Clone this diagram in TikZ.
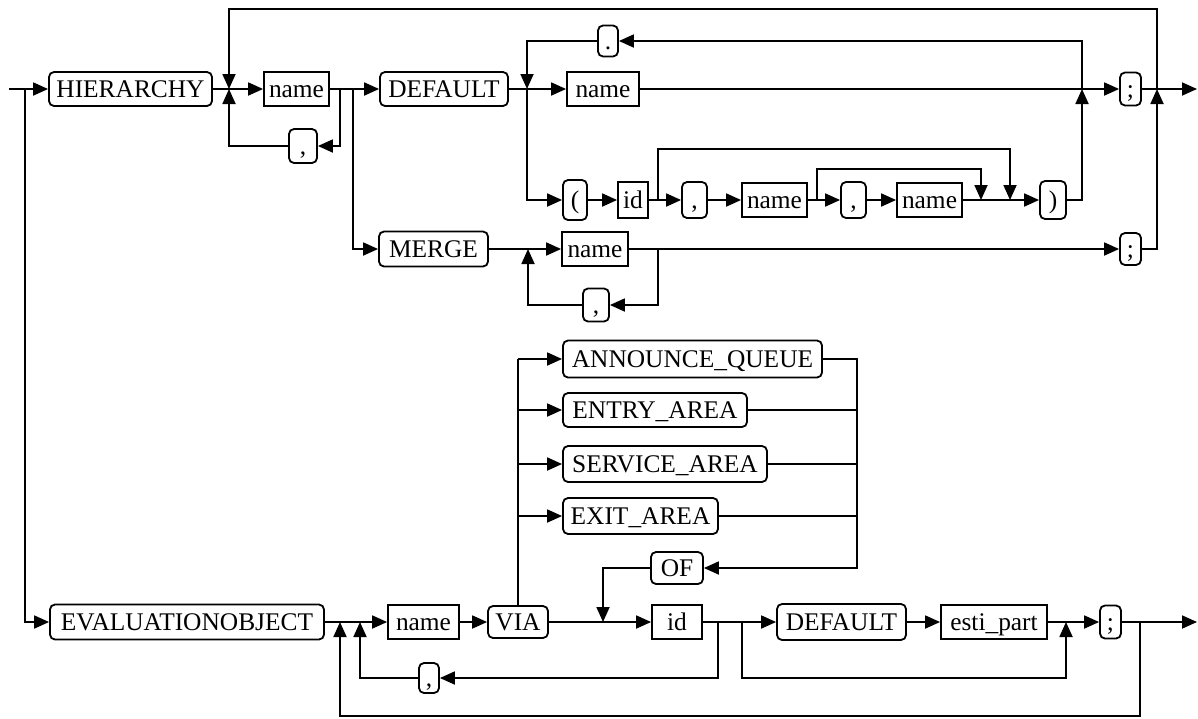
\documentclass[tikz,border=0pt]{standalone}
\usepackage{fontspec}
\setmainfont{Liberation Serif}
\usetikzlibrary{arrows.meta}

\begin{document}
\begin{tikzpicture}[x=0.5pt, y=-0.5pt, line width=0.9pt,
    >={Triangle[length=7.5pt,width=6.5pt]},
    every node/.style={font=\fontsize{12.7}{15}\selectfont, inner sep=0pt, text height=9pt, text depth=1pt},
    kw/.style={draw, rounded corners=2.5pt, minimum height=17pt},
    nt/.style={draw, minimum height=17pt}]
    \useasboundingbox (0,0) rectangle (1198,718);

    % HIERARCHY row
    \coordinate (start) at (9,89);
    \coordinate (jl) at (25,89);
    \node[kw, minimum width=81.5pt] (hier) at (130.5,89) {HIERARCHY};
    \coordinate (j1) at (229,89);
    \coordinate (tl) at (229,9);
    \node[nt, minimum width=32.5pt] (hname) at (296.5,89) {name};
    \coordinate (j2) at (340,89);
    \coordinate (j3) at (353,89);
    \node[kw, minimum width=14pt] (hcomma) at (303,146) {,};
    \node[kw, minimum width=64pt] (hdef) at (444,89) {DEFAULT};
    \coordinate (j4) at (527,89);
    \node[nt, minimum width=36pt] (dname) at (603,89) {name};
    \node[kw, minimum width=10pt, minimum height=15.5pt] (dot) at (608,41) {.};
    \coordinate (j5) at (1082,89);
    \node[kw, minimum width=10.5pt, minimum height=16.5pt] (hsemi) at (1130.5,89) {;};
    \coordinate (j6) at (1157,89);
    \coordinate (end1) at (1197,89);

    \draw[->] (start) -- (hier.west);
    \draw (hier) -- (j1);
    \draw[->] (j1) -- (hname);
    \draw (hname) -- (j3);
    \draw[->] (j3) -- (hdef);
    \draw (hdef) -- (j4);
    \draw[->] (j4) -- (dname);
    \draw[->] (dname) -- (hsemi);
    \draw[->] (hsemi) -- (end1);
    \draw[->] (j2) |- (hcomma.east);
    \draw[->] (hcomma.west) -| (j1);
    \draw[->] (j6) |- (tl) -- (j1);
    \draw[->] (j5) |- (dot.east);
    \draw[->] (dot.west) -| (j4);

    % parenthesised list
    \node[kw, minimum width=12pt, minimum height=20pt] (lpar) at (575,200) {(};
    \node[nt, minimum width=15pt, minimum height=18pt] (pid) at (633,200) {id};
    \coordinate (p1) at (658,200);
    \node[kw, minimum width=12.5pt, minimum height=18pt] (pcomma1) at (694.5,200) {,};
    \node[nt, minimum width=32.5pt] (pname1) at (774.5,200) {name};
    \coordinate (p2) at (817,200);
    \node[kw, minimum width=12.5pt, minimum height=18pt] (pcomma2) at (853.5,200) {,};
    \node[nt, minimum width=32.5pt] (pname2) at (929.5,200) {name};
    \coordinate (p3) at (981,200);
    \coordinate (p4) at (1010,200);
    \coordinate (pt1) at (1010,149);
    \coordinate (pt2) at (981,169);
    \node[kw, minimum width=13pt, minimum height=19pt] (rpar) at (1053,200) {)};

    \draw[->] (j4) |- (lpar.west);
    \draw[->] (lpar) -- (pid);
    \draw (pid) -- (p1);
    \draw[->] (p1) -- (pcomma1);
    \draw[->] (p1) |- (pt1) -- (p4);
    \draw[->] (pcomma1) -- (pname1);
    \draw (pname1) -- (p2);
    \draw[->] (p2) -- (pcomma2);
    \draw[->] (p2) |- (pt2) -- (p3);
    \draw[->] (pcomma2) -- (pname2);
    \draw[->] (pname2) -- (rpar);
    \draw[->] (rpar.east) -| (j5);

    % MERGE row
    \node[kw, minimum width=54.5pt, minimum height=17.5pt] (merge) at (433.5,249) {MERGE};
    \coordinate (m1) at (528,249);
    \node[nt, minimum width=33pt] (mname) at (595,249) {name};
    \coordinate (m2) at (658,249);
    \node[kw, minimum width=13pt, minimum height=16.5pt] (mcomma) at (596,305) {,};
    \node[kw, minimum width=10.5pt, minimum height=16pt] (msemi) at (1130.5,249) {;};

    \draw[->] (j3) |- (merge.west);
    \draw (merge) -- (m1);
    \draw[->] (m1) -- (mname);
    \draw[->] (mname) -- (msemi);
    \draw[->] (m2) |- (mcomma.east);
    \draw[->] (mcomma.west) -| (m1);
    \draw[->] (msemi.east) -| (j6);

    % EVALUATIONOBJECT row
    \node[kw, minimum width=137pt, minimum height=17.5pt] (evo) at (187,622) {EVALUATIONOBJECT};
    \coordinate (e1) at (340,622);
    \coordinate (e2) at (360,622);
    \node[nt, minimum width=35.5pt] (ename) at (423.5,622) {name};
    \node[kw, minimum width=30pt, minimum height=16pt] (via) at (518,622) {VIA};
    \coordinate (e3) at (603,622);
    \node[nt, minimum width=25pt] (eid) at (677,622) {id};
    \coordinate (e4) at (718,622);
    \coordinate (e5) at (742,622);
    \node[kw, minimum width=64.5pt, minimum height=18pt] (edef) at (841.5,622) {DEFAULT};
    \node[nt, minimum width=53pt] (esti) at (994,622) {esti\_part};
    \coordinate (e6) at (1066,622);
    \node[kw, minimum width=10.5pt, minimum height=16.5pt] (esemi) at (1110.5,622) {;};
    \coordinate (e7) at (1140,622);
    \coordinate (end2) at (1197,622);
    \node[kw, minimum width=10pt, minimum height=15pt] (ecomma) at (429,678) {,};
    \coordinate (eb) at (1066,678);
    \coordinate (ebot) at (340,716);

    % area choice
    \node[kw, minimum width=129.5pt, minimum height=18.5pt] (annq) at (692.5,359) {ANNOUNCE\_QUEUE};
    \node[kw, minimum width=92pt] (entry) at (655,410) {ENTRY\_AREA};
    \node[kw, minimum width=102pt, minimum height=18pt] (service) at (665,464) {SERVICE\_AREA};
    \node[kw, minimum width=77.5pt, minimum height=18pt] (exit) at (640.5,516) {EXIT\_AREA};
    \node[kw, minimum width=26pt, minimum height=16pt] (of) at (677,568) {OF};
    \coordinate (c0) at (518,359);
    \coordinate (c1) at (857,359);

    \draw[->] (jl) |- (evo.west);
    \draw (evo) -- (e2);
    \draw[->] (e2) -- (ename);
    \draw[->] (ename) -- (via);
    \draw (via) -- (e3);
    \draw[->] (e3) -- (eid);
    \draw (via.north) -- (c0);
    \draw[->] (c0) -- (annq);
    \draw[->] (c0 |- entry) -- (entry);
    \draw[->] (c0 |- service) -- (service);
    \draw[->] (c0 |- exit) -- (exit);
    \draw[->] (annq.east) -- (c1) |- (of.east);
    \draw (entry.east) -- (c1 |- entry);
    \draw (service.east) -- (c1 |- service);
    \draw (exit.east) -- (c1 |- exit);
    \draw[->] (of.west) -| (e3);
    \draw (eid) -- (e5);
    \draw[->] (e5) -- (edef);
    \draw[->] (edef) -- (esti);
    \draw[->] (esti) -- (esemi);
    \draw[->] (esemi) -- (end2);
    \draw[->] (e4) |- (ecomma.east);
    \draw[->] (ecomma.west) -| (e2);
    \draw[->] (e5) |- (eb) -- (e6);
    \draw[->] (e7) |- (ebot) -- (e1);
\end{tikzpicture}
\end{document}
